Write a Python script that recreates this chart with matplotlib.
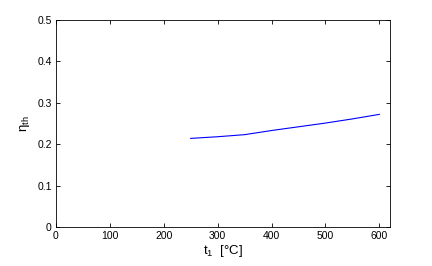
import matplotlib
matplotlib.use("Agg")
import matplotlib.pyplot as plt

# temperature t1 [°C] and thermal efficiency
t1 = [250, 300, 350, 400, 450, 500, 550, 600]
eta_th = [0.214, 0.218, 0.223, 0.233, 0.242, 0.251, 0.261, 0.272]

x_ticks = [0, 100, 200, 300, 400, 500, 600]
y_ticks = [0, 0.1, 0.2, 0.3, 0.4, 0.5]

plt.rcParams['font.family'] = ['Liberation Sans', 'DejaVu Sans']

fig = plt.figure(figsize=(4.32, 2.66), dpi=100)
ax = fig.add_axes([0.1296, 0.1466, 0.7734, 0.7784])
ax.plot(t1, eta_th, color='blue', linewidth=0.8)

ax.set_xlim(0, 620)
ax.set_ylim(0, 0.5)
ax.set_xticks(x_ticks)
ax.set_yticks(y_ticks)
ax.set_yticklabels(['0', '0.1', '0.2', '0.3', '0.4', '0.5'])
ax.tick_params(direction='in', length=3, width=0.6, labelsize=7.5,
               top=True, right=True, pad=3)
for s in ax.spines.values():
    s.set_linewidth(0.6)

ax.set_xlabel(r'$\mathregular{t_1}$  [°C]', fontsize=9.5, labelpad=1)
ax.set_ylabel(r'$\mathregular{\eta_{th}}$', fontsize=9.5, labelpad=4)

fig.savefig('out.png', dpi=100)
